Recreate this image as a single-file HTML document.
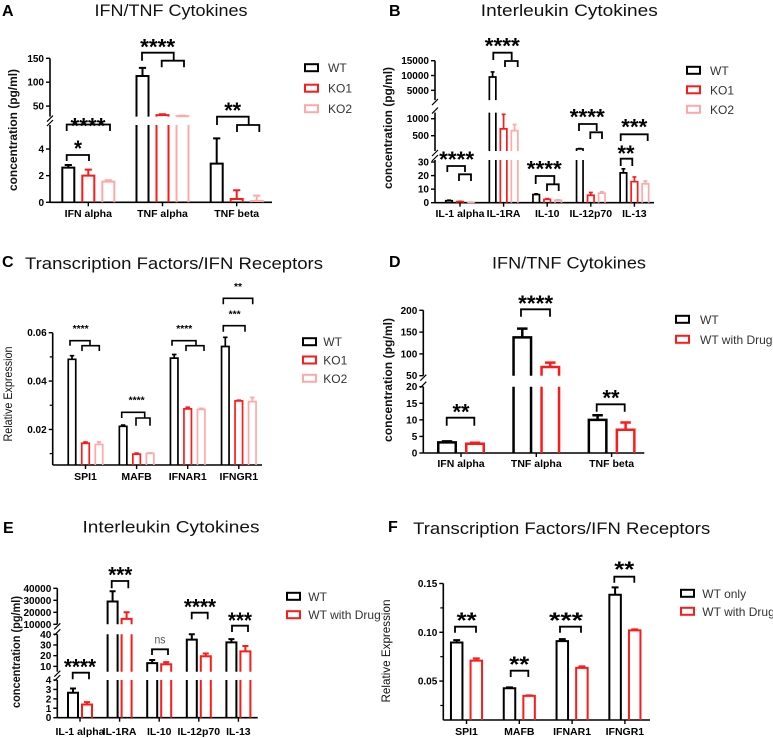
<!DOCTYPE html>
<html><head><meta charset="utf-8"><style>
html,body{margin:0;padding:0;background:#fff;}
svg{display:block;font-family:"Liberation Sans",Arial,sans-serif;}
</style></head><body>
<svg id="chart" width="773" height="738" viewBox="0 0 773 738" xmlns="http://www.w3.org/2000/svg"></svg>
<script>
// ---------- DATA ----------
const aCats=["IFN alpha","TNF alpha","TNF beta"];
const aWT=[2.6,113,2.9];   const aWTerr=[0.2,17,1.9];
const aKO1=[2.0,31,0.25];  const aKO1err=[0.45,2,0.65];
const aKO2=[1.55,29,0.1];  const aKO2err=[0.1,1,0.4];

const bCats=["IL-1 alpha","IL-1RA","IL-10","IL-12p70","IL-13"];
const bWT=[1.5,9500,6,110,22];     const bWTerr=[0.3,1700,0.5,10,3];
const bKO1=[0.8,700,2.5,5.5,15.5]; const bKO1err=[0.2,430,0.5,2,3.5];
const bKO2=[0.3,650,1.8,7,14];     const bKO2err=[0.1,180,0.3,1,2];

const cCats=["SPI1","MAFB","IFNAR1","IFNGR1"];
const cWT=[0.049,0.0213,0.0495,0.0543];   const cWTerr=[0.0015,0.0005,0.0015,0.0038];
const cKO1=[0.0143,0.0098,0.0285,0.0318]; const cKO1err=[0.0005,0.0004,0.0007,0.0003];
const cKO2=[0.0138,0.0101,0.0283,0.0315]; const cKO2err=[0.001,0.0002,0.0004,0.0017];

const dCats=["IFN alpha","TNF alpha","TNF beta"];
const dWT=[3.2,138,10];   const dWTerr=[0.3,20,1.4];
const dDrug=[2.8,70,7];   const dDrugerr=[0.3,10,2.2];

const eCats=["IL-1 alpha","IL-1RA","IL-10","IL-12p70","IL-13"];
const eWT=[2.65,29000,13,35,32.5];  const eWTerr=[0.45,8500,3,5,3];
const eDrug=[1.4,14500,12,19.5,24]; const eDrugerr=[0.25,5500,2,2.5,5];

const fCats=["SPI1","MAFB","IFNAR1","IFNGR1"];
const fWT=[0.0895,0.0427,0.091,0.1385];   const fWTerr=[0.0025,0.0008,0.002,0.0075];
const fDrug=[0.071,0.0348,0.0635,0.102];  const fDrugerr=[0.0022,0.0005,0.0015,0.001];

const aTicks=[[0,2,4],[50,100,150]];
const bTicks=[[0,10,20,30],[500,1000],[5000,10000,15000]];
const cTicks=[[0.02,0.04,0.06]]; const cTickLabels=["0.02","0.04","0.06"]; const cMinor=[0.01,0.03,0.05];
const dTicks=[[0,5,10,15,20],[50,100,150,200]];
const eTicks=[[0,1,2,3,4],[10,20,30,40],[10000,20000,30000,40000]];
const fTicks=[[0.05,0.10,0.15]]; const fTickLabels=["0.05","0.10","0.15"]; const fMinor=[0.025,0.075,0.125];

// ---------- HELPERS ----------
const NS='http://www.w3.org/2000/svg';
const svg=document.getElementById('chart');
function mk(tag,attrs,parent){const e=document.createElementNS(NS,tag);for(const k in attrs)e.setAttribute(k,attrs[k]);(parent||svg).appendChild(e);return e;}
function txt(x,y,s,attrs,parent){const t=mk('text',Object.assign({x:x,y:y},attrs),parent);t.textContent=s;return t;}
function yOf(seg,v){return seg.y0-(v-seg.lo)/(seg.hi-seg.lo)*(seg.y0-seg.y1);}

function drawPanel(P){
  const g=mk('g',{});
  
  
  const L=txt(P.letter[1],P.letter[2],P.letter[0],{'font-size':16,'font-weight':'bold',fill:'#000'},g);
  
  
  const T=txt(P.title[1],P.title[2],P.title[0],{'font-size':17,fill:'#111','text-anchor':'middle',textLength:P.title[3],lengthAdjust:'spacingAndGlyphs'},g);
  
  
  const YT=txt(0,0,P.ytitle[0],{'font-size':12,'font-weight':P.ytitle[4]?'bold':'normal',fill:'#111','text-anchor':'middle',transform:'translate('+P.ytitle[1]+','+P.ytitle[2]+') rotate(-90)',textLength:P.ytitle[3],lengthAdjust:'spacingAndGlyphs'},g);
  
  
  const ax=P.ax;
  P.segs.forEach((s,si)=>{
    const ln=mk('line',{x1:ax,x2:ax,y1:s.y0,y2:s.y1,stroke:'#000','stroke-width':1.6},g);
    
    
    s.ticks.forEach((v,ti)=>{
      const y=yOf(s,v);
      const tk=mk('line',{x1:ax-4,x2:ax,y1:y,y2:y,stroke:'#000','stroke-width':1.4},g);
      
      
      const lab=s.labels?s.labels[ti]:String(v);
      const tl=txt(ax-6,y+3.5,lab,{'font-size':10,'font-weight':'bold','text-anchor':'end',fill:'#000'},g);
      
      
    });
    (s.minor||[]).forEach(v=>{
      const y=yOf(s,v);
      const tk=mk('line',{x1:ax-3,x2:ax,y1:y,y2:y,stroke:'#000','stroke-width':1.2},g);
      
      
    });
    if(si>0){
      const prev=P.segs[si-1];
      const bk=mk('path',{d:'M'+(ax-3)+','+(prev.y1+1)+' L'+(ax+3)+','+(prev.y1-5)+' M'+(ax-3)+','+(s.y0+5)+' L'+(ax+3)+','+(s.y0-1),stroke:'#000','stroke-width':1.2,fill:'none'},g);
      
      
    }
  });
  const xa=mk('line',{x1:ax,x2:P.right,y1:P.base,y2:P.base,stroke:'#000','stroke-width':1.6},g);
  
  
  P.cats.forEach((c,i)=>{
    const cx=P.x0+i*P.step;
    const tk=mk('line',{x1:cx,x2:cx,y1:P.base,y2:P.base+4,stroke:'#000','stroke-width':1.4},g);
    
    
    const tl=txt(cx,P.labelY,c,{'font-size':10.5,'font-weight':'bold','text-anchor':'middle',fill:'#000'},g);
    
    
  });
  P.series.forEach((S,k)=>{
    S.vals.forEach((v,i)=>{
      const cx=P.x0+i*P.step+P.offsets[k];
      const l=cx-P.w/2, r=cx+P.w/2;
      P.segs.forEach(s=>{
        if(v<=s.lo && s.lo>0 && s!==P.segs[0]) return;
        let d;
        if(v>=s.hi){
          d='M'+l+','+s.y0+' V'+s.y1+' M'+r+','+s.y0+' V'+s.y1;
        } else {
          const yv=yOf(s,Math.max(v,s.lo));
          const ye=Math.max(yOf(s,v+S.errs[i]),s.y1-4);
          const cw=P.w*0.3;
          d='M'+l+','+s.y0+' V'+yv+' H'+r+' V'+s.y0+' M'+cx+','+yv+' V'+ye+' M'+(cx-cw)+','+ye+' H'+(cx+cw);
        }
        const b=mk('path',{d:d,stroke:S.color,'stroke-width':P.sw,fill:'none'},g);
        
        
      });
    });
  });
  P.brackets.forEach(bb=>{
    const p=mk('path',{d:'M'+bb[0]+','+bb[3]+' V'+bb[2]+' H'+bb[1]+' V'+bb[3],stroke:'#000','stroke-width':P.bsw||1.8,fill:'none'},g);
    
    
  });
  P.stars.forEach(st=>{
    const sz=st[4]||22;
    const t=txt(st[0],st[1]+0.57*sz-0.5,st[2],{'font-size':sz,'font-weight':st[2]==='ns'?'normal':'bold','text-anchor':'middle',fill:st[2]==='ns'?'#555':'#000',textLength:st[3],lengthAdjust:'spacingAndGlyphs'},g);
    if(st[2]==='ns'){t.setAttribute('y',st[1]+4);}
    
    
  });
  P.series.forEach((S,k)=>{
    const ly=P.legend[1]+k*P.legend[3];
    const lg=mk('g',{},g);
    
    
    mk('rect',{x:P.legend[0],y:ly-3.5,width:13,height:7,fill:'none',stroke:S.color,'stroke-width':2},lg);
    txt(P.legend[2],ly+4.5,S.label,{'font-size':12,fill:'#333'},lg);
  });
}

const BLACK='#000', RED='#ff1a1a', PINK='#ffa8a8';

drawPanel({name:'panel-a',letter:['A',2,16],title:['IFN/TNF Cytokines',171,16,153],
  ytitle:['concentration (pg/ml)',17,130,122,true],
  ax:50,right:272,base:202.3,labelY:217,
  segs:[{lo:0,hi:5.8,y0:202.3,y1:125,ticks:aTicks[0]},{lo:28,hi:150,y0:116.6,y1:58.3,ticks:aTicks[1]}],
  cats:aCats,x0:88.3,step:74.2,offsets:[-20,0,20],w:12,sw:2,
  series:[{key:'wt',label:'WT',color:BLACK,vals:aWT,errs:aWTerr},{key:'ko1',label:'KO1',color:RED,vals:aKO1,errs:aKO1err},{key:'ko2',label:'KO2',color:PINK,vals:aKO2,errs:aKO2err}],
  brackets:[[66.7,110,124.5,131],[66.7,89,155,161],[142,173.7,52.7,60.7],[161.7,184,60.7,67.3],[217,248.7,116.7,125],[237,259.3,125,132]],
  stars:[[88,121.5,'****',35],[78,144,'*',8],[157.7,42.3,'****',35],[232.7,106,'**',17]],
  legend:[305,67.7,328,20.5]});

drawPanel({name:'panel-b',letter:['B',389,16],title:['Interleukin Cytokines',569.3,16,177],
  ytitle:['concentration (pg/ml)',392,128,122,true],
  ax:435,right:654,base:202.7,labelY:217,
  segs:[{lo:0,hi:31.5,y0:202.7,y1:160,ticks:bTicks[0]},{lo:50,hi:1180,y0:151,y1:112.6,ticks:bTicks[1]},{lo:1700,hi:15000,y0:100.1,y1:60.7,ticks:bTicks[2]}],
  cats:bCats,x0:460,step:43.6,offsets:[-11,0,11],w:6.5,sw:1.7,
  series:[{key:'wt',label:'WT',color:BLACK,vals:bWT,errs:bWTerr},{key:'ko1',label:'KO1',color:RED,vals:bKO1,errs:bKO1err},{key:'ko2',label:'KO2',color:PINK,vals:bKO2,errs:bKO2err}],
  brackets:[[493.3,511.7,52.7,60],[505,517.7,61,67],[447.3,465,166,172],[459,471,174.3,181],[535.7,554.3,176,184],[547,558.7,184.3,191],[579,596.7,124,131],[590.3,602,132.3,139],[620.7,647.7,134.3,141],[620.7,632.3,158.7,166]],
  stars:[[502.3,41.7,'****',35],[456.7,155,'****',35],[544.3,164.3,'****',35],[587.3,112.3,'****',35],[634.3,122.7,'***',26],[626,149,'**',17]],
  legend:[687,70.3,710,19.5]});

drawPanel({name:'panel-c',letter:['C',2,267],title:['Transcription Factors/IFN Receptors',174,269,298],
  ytitle:['Relative Expression',12,394,95,false],
  ax:52.7,right:262,base:465,labelY:480,
  segs:[{lo:0.0053,hi:0.06,y0:465,y1:332.7,ticks:cTicks[0],labels:cTickLabels,minor:cMinor}],
  cats:cCats,x0:85.5,step:51.1,offsets:[-13.5,0,13.5],w:7.5,sw:1.7,bsw:1.6,
  series:[{key:'wt',label:'WT',color:BLACK,vals:cWT,errs:cWTerr},{key:'ko1',label:'KO1',color:RED,vals:cKO1,errs:cKO1err},{key:'ko2',label:'KO2',color:PINK,vals:cKO2,errs:cKO2err}],
  brackets:[[70,90,340.7,345.7],[82,99.3,345.7,351],[121.7,144.7,412.3,418],[136,150,418,425.7],[172,196,340.7,345.7],[186,204,345.7,351],[223.3,252.7,298.3,304.3],[223.3,245,325.7,331.7]],
  stars:[[80.7,326.7,'****',16,10],[136.7,398.3,'****',16,10],[184.3,326.7,'****',16,10],[238,285,'**',8,10],[234.7,312.3,'***',12,10]],
  legend:[303,341.7,323.3,18.3]});

drawPanel({name:'panel-d',letter:['D',389,267],title:['IFN/TNF Cytokines',569,268.3,154],
  ytitle:['concentration (pg/ml)',392,380,124,true],
  ax:423.3,right:644.3,base:453,labelY:467,
  segs:[{lo:0,hi:20,y0:453,y1:386.7,ticks:dTicks[0]},{lo:50,hi:200,y0:375.7,y1:310.3,ticks:dTicks[1]}],
  cats:dCats,x0:461,step:75.3,offsets:[-14,14],w:17.5,sw:2.5,
  series:[{key:'wt',label:'WT',color:BLACK,vals:dWT,errs:dWTerr},{key:'drug',label:'WT with Drug',color:RED,vals:dDrug,errs:dDrugerr}],
  brackets:[[446.7,474.3,417.7,425.7],[521,550,309.3,316.7],[596.7,624.7,404.3,411.7]],
  stars:[[461,407.3,'**',17],[535.7,299,'****',35],[611,393.3,'**',17]],
  legend:[676,319.3,700,20]});

drawPanel({name:'panel-e',letter:['E',3,533],title:['Interleukin Cytokines',171,532.3,177],
  ytitle:['concentration (pg/ml)',20,652,112,true],
  ax:57.3,right:257.7,base:717.7,labelY:735,
  segs:[{lo:0,hi:4,y0:717.7,y1:680,ticks:eTicks[0]},{lo:5,hi:40,y0:671.7,y1:634.3,ticks:eTicks[1]},{lo:10000,hi:40000,y0:624.3,y1:588.3,ticks:eTicks[2]}],
  cats:eCats,x0:80,step:39.6,offsets:[-7,7],w:10,sw:2,
  series:[{key:'wt',label:'WT',color:BLACK,vals:eWT,errs:eWTerr},{key:'drug',label:'WT with Drug',color:RED,vals:eDrug,errs:eDrugerr}],
  brackets:[[72.7,89,672.7,679.3],[111.7,128.3,581,588.3],[152,168,649.3,655],[191.7,207.7,612.7,619.3],[232,248,625.7,632]],
  stars:[[80,662.7,'****',32],[120.3,570.7,'***',24],[160,639.3,'ns',11,12],[200,602.7,'****',32],[240,616,'***',24]],
  legend:[287,596.3,308.3,18.4]});

drawPanel({name:'panel-f',letter:['F',388,532],title:['Transcription Factors/IFN Receptors',561.7,534,297],
  ytitle:['Relative Expression',390,651,103,false],
  ax:443.3,right:650,base:720,labelY:735,
  segs:[{lo:0.01,hi:0.15,y0:720.1,y1:583.5,ticks:fTicks[0],labels:fTickLabels,minor:fMinor}],
  cats:fCats,x0:466.5,step:52.8,offsets:[-9.8,9.8],w:11.5,sw:2,
  series:[{key:'wt',label:'WT only',color:BLACK,vals:fWT,errs:fWTerr},{key:'drug',label:'WT with Drug',color:RED,vals:fDrug,errs:fDrugerr}],
  brackets:[[455,476,626.7,632.7],[510.7,528.3,670.7,677],[560,581,626.7,632.7],[614.3,634.3,576.7,582.7]],
  stars:[[466.7,616,'**',20],[519.3,660,'**',20],[566,616,'***',34],[624.3,565,'**',20]],
  legend:[681,593.3,702.3,18]});
</script>
</body></html>
